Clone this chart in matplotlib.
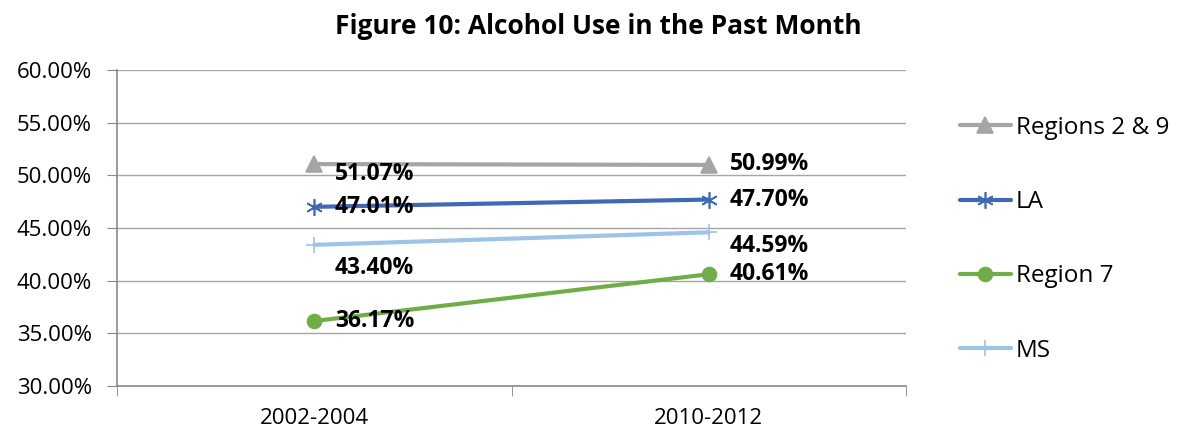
import matplotlib
matplotlib.use("Agg")
import matplotlib.pyplot as plt
from matplotlib.ticker import FuncFormatter, FixedLocator

# Datos del grafico
periodos = ['2002-2004', '2010-2012']
regiones_2_9 = [51.07, 50.99]
la = [47.01, 47.70]
region_7 = [36.17, 40.61]
ms = [43.40, 44.59]

# Desplazamiento vertical de cada etiqueta (en puntos)
etiquetas_dy = {
    'Regions 2 & 9': [-7, 1],
    'LA': [0, 0],
    'Region 7': [0, 0],
    'MS': [-17, -10],
}

plt.rcParams['font.family'] = ['Open Sans', 'DejaVu Sans']

fig = plt.figure(figsize=(11.83, 4.34), dpi=100)
ax = fig.add_axes([117 / 1183, 48 / 434, 789 / 1183, 316 / 434])

x = list(range(len(periodos)))
series = [
    ('Regions 2 & 9', regiones_2_9, '#A5A5A5', '^', 11),
    ('LA', la, '#3F68B5', (6, 2, 0), 12),
    ('Region 7', region_7, '#70AD47', 'o', 10),
    ('MS', ms, '#9DC3E6', '+', 12),
]

for nombre, valores, color, marcador, tam in series:
    ax.plot(x, valores, color=color, lw=3, marker=marcador, markersize=tam,
            markeredgewidth=1.2, markerfacecolor=color, markeredgecolor=color,
            label=nombre, solid_capstyle='round', zorder=3)
    for i, v in enumerate(valores):
        ax.annotate(f'{v:.2f}%', (x[i], v), xytext=(15, etiquetas_dy[nombre][i]),
                    textcoords='offset points', ha='left', va='center',
                    fontsize=16.5, fontweight='bold', color='black', zorder=4)

ax.set_xlim(-0.5, 1.5)
ax.set_ylim(30, 60)
ax.set_yticks(range(30, 61, 5))
ax.yaxis.set_major_formatter(FuncFormatter(lambda v, p: f'{v:.2f}%'))
ax.set_xticks(x)
ax.set_xticklabels(periodos)
ax.xaxis.set_minor_locator(FixedLocator([-0.5, 0.5, 1.5]))
ax.tick_params(axis='x', which='major', length=0, labelsize=16, pad=16)
ax.tick_params(axis='x', which='minor', length=7, color='#898989')
ax.tick_params(axis='y', length=7, color='#898989', labelsize=16, pad=11)

ax.grid(axis='y', color='#A6A6A6', lw=1)
ax.set_axisbelow(True)
for lado in ['top', 'right']:
    ax.spines[lado].set_visible(False)
for lado in ['left', 'bottom']:
    ax.spines[lado].set_color('#898989')
    ax.spines[lado].set_linewidth(1.2)

fig.text(598 / 1183, 1 - 27 / 434, 'Figure 10: Alcohol Use in the Past Month',
         ha='center', va='center', fontsize=19, fontweight='bold')

fig.legend(loc='upper left', bbox_to_anchor=(950 / 1183, 1 - 106 / 434),
           frameon=False, fontsize=17.5, labelspacing=2.07, handlelength=2.1,
           handletextpad=0.2, borderaxespad=0)

fig.savefig('out.png', dpi=100)
